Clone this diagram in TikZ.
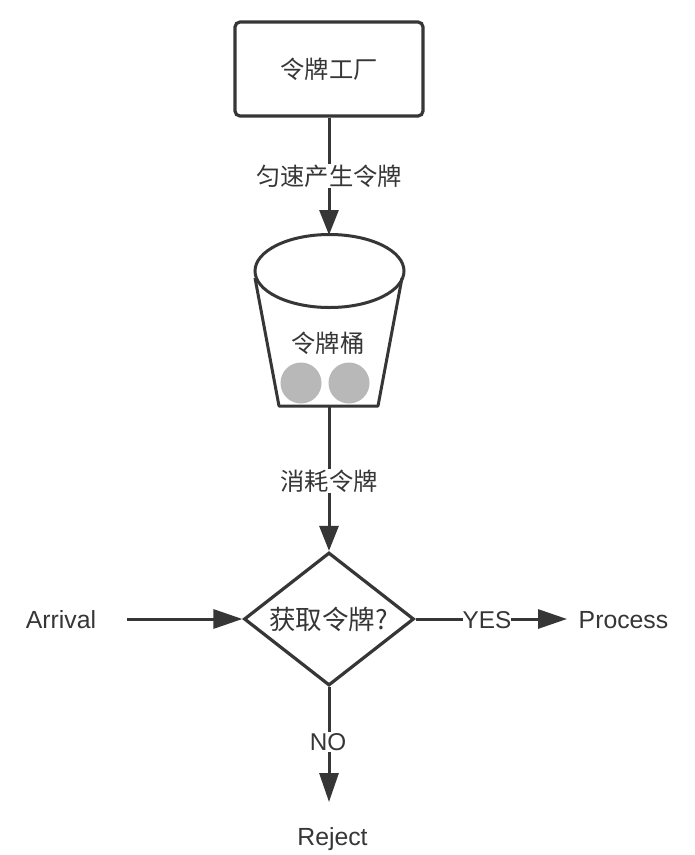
\documentclass[tikz,border=0pt]{standalone}
\usepackage{fontspec}
\setmainfont{Liberation Sans}
\newfontfamily\cjk{Noto Sans CJK SC}
\usetikzlibrary{arrows.meta,shapes.geometric}
\definecolor{ln}{HTML}{363636}
\definecolor{tok}{HTML}{B8B8B8}
\tikzset{
  x=1pt,y=-1pt,
  conn/.style={draw=ln,line width=3pt},
  arr/.style={conn,-{Triangle[length=25pt,width=19pt]}},
  arrh/.style={conn,-{Triangle[length=29pt,width=19pt]}},
  lab/.style={text=ln,font=\fontsize{24.3}{28}\selectfont,inner sep=1pt},
  lbl/.style={lab,fill=white},
  token/.style={circle,fill=tok,minimum size=41pt,inner sep=0pt}
}
\begin{document}
\begin{tikzpicture}
\useasboundingbox (0,0) rectangle (695,855);
\fill[white] (0,0) rectangle (695,855);
\node[draw=ln,line width=3.2pt,rounded corners=5pt,minimum width=188pt,minimum height=94pt,inner sep=0pt,lab] (factory) at (329,69) {\cjk 令牌工厂};
% bucket
\coordinate (bl) at (255,278);
\coordinate (br) at (402,278);
\coordinate (bbl) at (279,406);
\coordinate (bbr) at (378,406);
\coordinate (btop) at (329,235);
\coordinate (bbot) at (329,406);
\draw[ln,line width=3pt,line join=round] (bl) -- (bbl) -- (bbr) -- (br);
\draw[ln,line width=3pt] (329.5,271) ellipse [x radius=74.5,y radius=36.5];
\node[token] (t1) at (301,383) {};
\node[token] (t2) at (349,383) {};
\node[lab] (bucket) at (328,343) {\cjk 令牌桶};
\node[diamond,draw=ln,line width=3.2pt,minimum width=170pt,minimum height=133pt,inner sep=0pt] (dec) at (329,619) {};
\node[lab,font=\fontsize{26.5}{30}\selectfont] at (328.5,619) {\cjk 获取令牌?};
\node[lab,font=\fontsize{24.8}{28}\selectfont] (arrival) at (61,620) {Arrival};
\node[lab,font=\fontsize{24.8}{28}\selectfont] (process) at (623.5,620) {Process};
\node[lab,font=\fontsize{24.8}{28}\selectfont] (reject) at (332.5,839) {Reject};
\coordinate (arrstart) at (127,619);
\coordinate (pend) at (567,619);
\coordinate (rend) at (329,802);
\draw[arr] (factory.south) -- (btop);
\node[lbl] at (329,176) {\cjk 匀速产生令牌};
\draw[arr] (bbot) -- (dec.north);
\node[lbl] at (329,481) {\cjk 消耗令牌};
\draw[arrh] (arrstart) -- (dec.west);
\draw[arrh] (dec.east) -- (pend);
\node[lbl,inner sep=0pt] at (487,620) {YES};
\draw[arrh] (dec.south) -- (rend);
\node[lbl] at (328,742) {NO};
\end{tikzpicture}
\end{document}
